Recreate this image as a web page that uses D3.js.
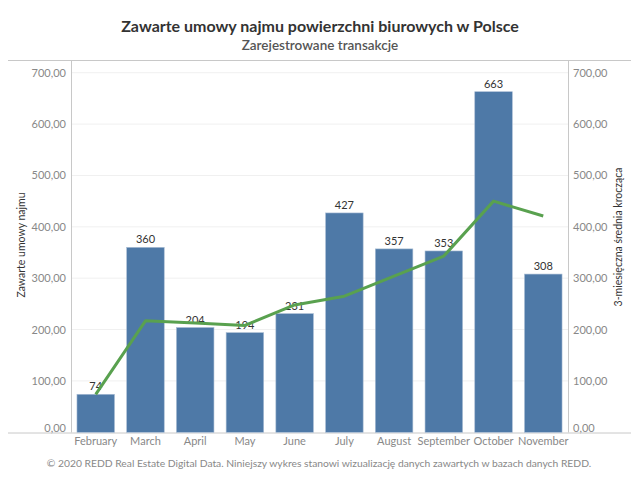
<!DOCTYPE html>
<html><head><meta charset="utf-8">
<script src="https://cdn.jsdelivr.net/npm/d3@7"></script>
<style>
body{margin:0;background:#fff;}
text{font-family:Lato,"Open Sans",sans-serif;}
</style></head>
<body><svg id="c" width="640" height="480"></svg>
<script>
const months = ["February","March","April","May","June","July","August","September","October","November"];
const deals = [74,360,204,194,231,427,357,353,663,308];
const movingAvg = [74,217,213,208,248,265,304,343,450,421];
const yTicks = [0,100,200,300,400,500,600,700];

const svg = d3.select("#c");
const L = 71, R = 568, T = 60, B = 432.5;
const x = d3.scaleBand().domain(months).range([L, R]).paddingInner(0.245).paddingOuter(0.12);
const y = d3.scaleLinear().domain([0,700]).range([432.3,72.7]);
const fmt = v => d3.format(".2f")(v).replace(".", ",");

// title
svg.append("text").attr("x",320).attr("y",32).attr("text-anchor","middle")
  .attr("font-size",16).attr("font-weight","bold").attr("fill","#333").text("Zawarte umowy najmu powierzchni biurowych w Polsce");
svg.append("text").attr("x",320).attr("y",49.5).attr("text-anchor","middle")
  .attr("font-size",13.5).attr("font-weight","600").attr("fill","#555").text("Zarejestrowane transakcje");

// gridlines
svg.append("g").selectAll("line").data(yTicks.filter(d=>d>0)).join("line")
  .attr("x1",L).attr("x2",R).attr("y1",d=>y(d)).attr("y2",d=>y(d))
  .attr("stroke","#f0f0f0").attr("stroke-width",1);

// frame lines
const lc = "#c8c8c8";
svg.append("line").attr("x1",8).attr("x2",631).attr("y1",T+0.5).attr("y2",T+0.5).attr("stroke",lc);
svg.append("line").attr("x1",8).attr("x2",631).attr("y1",B+0.5).attr("y2",B+0.5).attr("stroke",lc);
svg.append("line").attr("x1",L+0.5).attr("x2",L+0.5).attr("y1",T).attr("y2",B).attr("stroke",lc);
svg.append("line").attr("x1",R+0.5).attr("x2",R+0.5).attr("y1",T).attr("y2",B).attr("stroke",lc);

// axes labels
const axL = svg.append("g").attr("transform",`translate(${L},0)`)
  .call(d3.axisLeft(y).tickValues(yTicks).tickFormat(fmt).tickSize(0).tickPadding(5));
const axR = svg.append("g").attr("transform",`translate(${R},0)`)
  .call(d3.axisRight(y).tickValues(yTicks).tickFormat(fmt).tickSize(0).tickPadding(5));
[axL,axR].forEach(a=>{
  a.select(".domain").remove();
  a.selectAll("text").attr("fill","#888").attr("font-size",11).attr("font-family","Lato,sans-serif")
   .attr("dy",d=>d===0?"-0.1em":"0.32em");
});
const axX = svg.append("g").attr("transform",`translate(0,${B})`)
  .call(d3.axisBottom(x).tickSize(0).tickPadding(5));
axX.select(".domain").remove();
axX.selectAll("text").attr("fill","#888").attr("font-size",11).attr("font-family","Lato,sans-serif");

// bars
svg.append("g").selectAll("rect").data(deals).join("rect")
  .attr("x",(d,i)=>x(months[i])).attr("width",x.bandwidth())
  .attr("y",d=>y(d)).attr("height",d=>y(0)-y(d))
  .attr("fill","#4e79a7").attr("stroke","#a9bdd4").attr("stroke-width",0.6);

// bar labels
svg.append("g").selectAll("text").data(deals).join("text")
  .attr("x",(d,i)=>x(months[i])+x.bandwidth()/2).attr("y",d=>y(d)-4)
  .attr("text-anchor","middle").attr("font-size",11).attr("fill","#333").text(d=>d);

// line
svg.append("path").datum(movingAvg)
  .attr("d",d3.line().x((d,i)=>x(months[i])+x.bandwidth()/2).y(d=>y(d)))
  .attr("fill","none").attr("stroke","#59a14f").attr("stroke-width",3).attr("stroke-linejoin","round");

// axis titles
svg.append("text").attr("transform","translate(25,245) rotate(-90)").attr("text-anchor","middle")
  .attr("font-size",10.5).attr("fill","#333").text("Zawarte umowy najmu");
svg.append("text").attr("transform","translate(622,237) rotate(-90)").attr("text-anchor","middle")
  .attr("font-size",10.5).attr("fill","#333").text("3-miesięczna średnia krocząca");

// footer
svg.append("text").attr("x",319).attr("y",467).attr("text-anchor","middle")
  .attr("font-size",10.3).attr("fill","#888").text("© 2020 REDD Real Estate Digital Data. Niniejszy wykres stanowi wizualizację danych zawartych w bazach danych REDD.");
</script></body></html>
